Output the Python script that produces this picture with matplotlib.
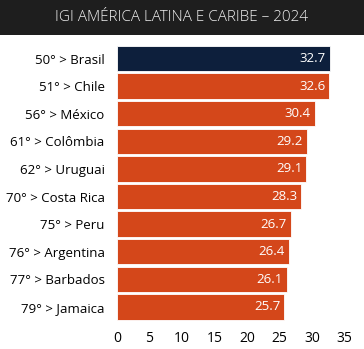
import matplotlib.pyplot as plt
from matplotlib.patches import Rectangle

plt.rcParams['font.family'] = ['Open Sans', 'DejaVu Sans']

labels = ["50° > Brasil", "51° > Chile", "56° > México", "61° > Colômbia",
          "62° > Uruguai", "70° > Costa Rica", "75° > Peru", "76° > Argentina",
          "77° > Barbados", "79° > Jamaica"]
values = [32.7, 32.6, 30.4, 29.2, 29.1, 28.3, 26.7, 26.4, 26.1, 25.7]
highlight = "Brasil"
xticks = [0, 5, 10, 15, 20, 25, 30, 35]
title = "IGI AMÉRICA LATINA E CARIBE – 2024"

navy = "#0d1f3c"
orange = "#d4471a"

fig = plt.figure(figsize=(3.64, 3.49), dpi=100)
fig.patches.append(Rectangle((0, 1 - 35 / 349), 1, 35 / 349, transform=fig.transFigure,
                             facecolor="#1e1e1e", edgecolor="none", zorder=0))
fig.text(0.5, 1 - 17.5 / 349, title, ha="center", va="center", color="#eeeeee",
         fontsize=11, fontweight="light")

ax = fig.add_axes([117 / 364, 1 - 320.8 / 349, (348 - 117) / 364, (320.8 - 44.7) / 349])
ypos = list(range(len(labels)))
colors = [navy if highlight in l else orange for l in labels]
ax.barh(ypos, values, height=0.92, color=colors, edgecolor="white", linewidth=0.6)
for y, v in zip(ypos, values):
    ax.text(v - 0.6, y, f"{v}", ha="right", va="center", color="white",
            fontsize=9.5, fontweight="medium")

ax.set_yticks(ypos)
ax.set_yticklabels(labels, fontsize=9.5, fontweight="medium")
ax.set_xticks(xticks)
ax.set_xticklabels([str(t) for t in xticks], fontsize=10, fontweight="medium")
ax.set_xlim(0, 35.5)
ax.set_ylim(len(labels) - 0.5, -0.5)
ax.tick_params(axis="y", length=0, pad=9)
ax.tick_params(axis="x", length=0, pad=7)
for s in ax.spines.values():
    s.set_visible(False)

fig.savefig("out.png", dpi=100)
